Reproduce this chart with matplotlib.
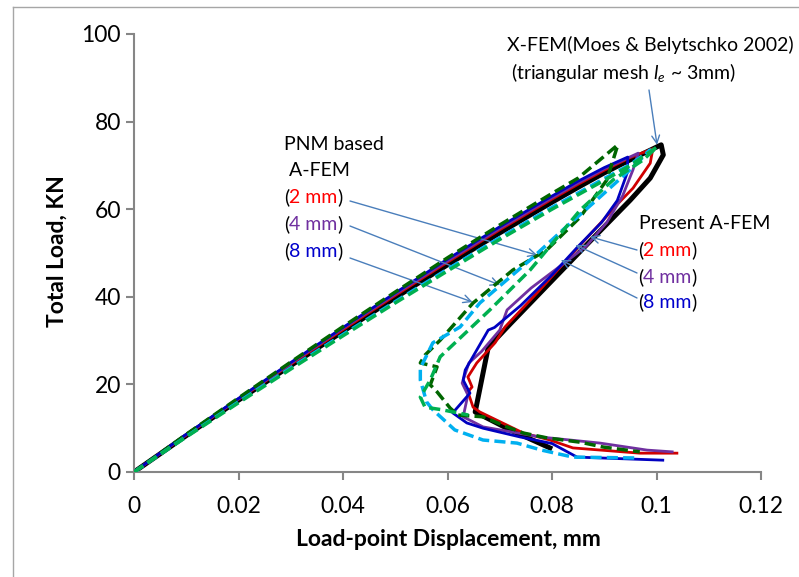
import matplotlib
matplotlib.use("Agg")
import matplotlib.pyplot as plt
from matplotlib.lines import Line2D

plt.rcParams['font.family'] = ['Lato', 'DejaVu Sans']
plt.rcParams['mathtext.fontset'] = 'custom'
plt.rcParams['mathtext.rm'] = 'Lato'
plt.rcParams['mathtext.it'] = 'Lato:italic'

# ---------------- data (displacement mm, load kN) ----------------
xfem_x = [0, 0.01, 0.02, 0.03, 0.04, 0.05, 0.06, 0.07, 0.08, 0.085, 0.09, 0.095, 0.0985, 0.1009,
          0.1013, 0.0988, 0.0950, 0.0873, 0.0796, 0.0720, 0.0678, 0.0653, 0.0720, 0.0796]
xfem_y = [0, 8.3, 16.4, 24.3, 32.1, 39.8, 47.3, 54.6, 61.6, 65.0, 68.3, 71.3, 73.3, 74.7,
          72.4, 67.1, 62.1, 52.7, 43.2, 33.8, 28.5, 13.7, 9.6, 5.5]

pres2_x = [0, 0.01, 0.02, 0.03, 0.04, 0.05, 0.06, 0.07, 0.08, 0.085, 0.09, 0.095, 0.0993,
           0.0988, 0.0955, 0.0924, 0.0898, 0.0840, 0.0777, 0.0710, 0.0691, 0.0656, 0.0639, 0.0647,
           0.0639, 0.0649, 0.0662, 0.0745, 0.0796, 0.0840, 0.0968, 0.1039]
pres2_y = [0, 8.4, 16.6, 24.6, 32.5, 40.3, 47.9, 55.3, 62.3, 65.7, 68.9, 71.8, 73.8,
           70.5, 64.8, 61.0, 57.5, 50.0, 41.6, 33.1, 29.5, 24.9, 21.7, 19.4,
           18.3, 14.8, 13.7, 8.9, 7.3, 5.5, 4.3, 4.3]

pres4_x = [0, 0.01, 0.02, 0.03, 0.04, 0.05, 0.06, 0.07, 0.08, 0.085, 0.09, 0.0965,
           0.0955, 0.0935, 0.0905, 0.0865, 0.0810, 0.0760, 0.0714, 0.0700, 0.0665, 0.0641, 0.0628,
           0.0639, 0.0630, 0.0668, 0.0777, 0.0892, 0.0982, 0.1030]
pres4_y = [0, 8.5, 16.7, 24.8, 32.8, 40.6, 48.2, 55.6, 62.6, 66.0, 69.2, 72.8,
           69.0, 63.0, 57.0, 51.5, 46.5, 42.0, 37.0, 32.4, 27.5, 24.9, 20.3,
           17.6, 12.6, 10.3, 8.0, 6.6, 5.0, 4.6]

pres8_x = [0, 0.01, 0.02, 0.03, 0.04, 0.05, 0.06, 0.07, 0.08, 0.085, 0.09, 0.0945,
           0.0944, 0.0925, 0.0895, 0.0850, 0.0800, 0.0740, 0.0690, 0.0678, 0.0634, 0.0630, 0.0643,
           0.0610, 0.0637, 0.0668, 0.0739, 0.0800, 0.0848, 0.1012]
pres8_y = [0, 8.6, 16.8, 25.0, 33.0, 40.9, 48.6, 56.0, 63.0, 66.4, 69.5, 71.9,
           68.3, 62.0, 57.0, 51.5, 45.0, 38.0, 33.0, 32.4, 23.3, 21.0, 18.0,
           13.5, 11.2, 10.0, 8.0, 6.5, 3.4, 2.7]

pnm2_x = [0, 0.01, 0.02, 0.03, 0.04, 0.05, 0.06, 0.07, 0.08, 0.085, 0.0926,
          0.0905, 0.0854, 0.0790, 0.0725, 0.0649, 0.0586, 0.0557, 0.0548, 0.0580, 0.0567,
          0.0580, 0.0605, 0.0620, 0.0668, 0.0714, 0.0745, 0.0790, 0.0854, 0.0898, 0.0968]
pnm2_y = [0, 8.6, 16.9, 25.1, 33.2, 41.1, 48.9, 56.4, 63.6, 67.1, 74.7,
          66.7, 58.2, 50.7, 46.1, 38.6, 30.1, 26.7, 24.9, 24.0, 19.9,
          18.3, 14.6, 13.0, 12.6, 10.3, 8.9, 7.8, 6.8, 5.7, 4.6]

pnm4_x = [0, 0.01, 0.02, 0.03, 0.04, 0.05, 0.06, 0.07, 0.08, 0.09, 0.095, 0.0988,
          0.0955, 0.0892, 0.0821, 0.0758, 0.0662, 0.0624, 0.0572, 0.0548, 0.0548, 0.0560,
          0.0572, 0.0614, 0.0668, 0.0733, 0.0780, 0.0840, 0.0963]
pnm4_y = [0, 8.1, 16.0, 23.8, 31.4, 38.9, 46.3, 53.5, 60.4, 67.0, 70.2, 73.5,
          69.6, 62.8, 55.3, 48.4, 38.6, 33.1, 29.5, 23.7, 21.0, 16.0,
          14.2, 9.6, 7.3, 6.6, 5.0, 3.4, 3.2]

pnm8_x = [0, 0.01, 0.02, 0.03, 0.04, 0.05, 0.06, 0.07, 0.08, 0.09, 0.095, 0.1001,
          0.0974, 0.0917, 0.0854, 0.0758, 0.0681, 0.0586, 0.0567, 0.0548, 0.0557,
          0.0590, 0.0640]
pnm8_y = [0, 8.0, 15.8, 23.5, 31.1, 38.6, 45.9, 53.1, 60.0, 66.6, 70.0, 74.2,
          71.2, 66.7, 59.8, 46.1, 37.0, 26.3, 21.0, 17.1, 14.8,
          14.2, 13.0]

x_ticks = [0, 0.02, 0.04, 0.06, 0.08, 0.1, 0.12]
x_tick_labels = ['0', '0.02', '0.04', '0.06', '0.08', '0.1', '0.12']
y_ticks = [0, 20, 40, 60, 80, 100]

# ---------------- figure ----------------
W, H = 799, 577
fig = plt.figure(figsize=(W / 100, H / 100), dpi=100)
ax = fig.add_axes([134 / W, 1 - 472 / H, 627 / W, 438 / H])

gray = '#868686'
ax.plot(xfem_x, xfem_y, color='black', lw=3.6, solid_joinstyle='round', zorder=2)
ax.plot(pres2_x, pres2_y, color='#D00000', lw=2.0, zorder=3)
ax.plot(pres4_x, pres4_y, color='#7030A0', lw=2.0, zorder=3)
ax.plot(pres8_x, pres8_y, color='#0000C0', lw=2.0, zorder=3)
dash = (0, (3.2, 1.5))
ax.plot(pnm2_x, pnm2_y, color='#006600', lw=2.5, ls=dash, zorder=4)
ax.plot(pnm4_x, pnm4_y, color='#00B0F0', lw=2.5, ls=dash, zorder=4)
ax.plot(pnm8_x, pnm8_y, color='#00B050', lw=2.5, ls=dash, zorder=4)

ax.set_xlim(0, 0.12)
ax.set_ylim(0, 100)
ax.set_xticks(x_ticks)
ax.set_xticklabels(x_tick_labels)
ax.set_yticks(y_ticks)
for s in ['top', 'right']:
    ax.spines[s].set_visible(False)
for s in ['left', 'bottom']:
    ax.spines[s].set_color(gray)
    ax.spines[s].set_linewidth(1.5)
ax.tick_params(direction='out', length=5.5, width=1.5, color=gray, labelsize=16.5,
               labelcolor='black')
ax.tick_params(axis='y', pad=4)
ax.tick_params(axis='x', pad=12)

fig.text(448 / W, 1 - 540 / H, 'Load-point Displacement, mm', ha='center', va='center',
         fontsize=16.5, fontweight='bold')
fig.text(57 / W, 1 - 251 / H, 'Total Load, KN', ha='center', va='center', rotation=90,
         fontsize=16.5, fontweight='bold')

# outer chart frame
fig.add_artist(Line2D([13 / W, 13 / W], [0, 1 - 7 / H], transform=fig.transFigure,
                      color='#A6A6A6', lw=1))
fig.add_artist(Line2D([13 / W, 1], [1 - 7 / H, 1 - 7 / H], transform=fig.transFigure,
                      color='#A6A6A6', lw=1))

fs = 14
def ftxt(px, py, s, **kw):
    return fig.text(px / W, 1 - py / H, s, fontsize=fs, va='center', **kw)

renderer = fig.canvas.get_renderer()
def multi(px, py, parts):
    t = fig.text(px / W, 1 - py / H, parts[0][0], fontsize=fs, va='baseline', color=parts[0][1])
    for s, c in parts[1:]:
        bb = t.get_window_extent(renderer)
        t = fig.text(bb.x1 / W, 1 - py / H, s, fontsize=fs, va='baseline', color=c)

arrow_c = '#4A7EBB'
def arrow(px0, py0, xd, yd):
    ax.annotate('', xy=(xd, yd), xycoords='data',
                xytext=(px0 / W, 1 - py0 / H), textcoords='figure fraction',
                arrowprops=dict(arrowstyle='->', color=arrow_c, lw=1.0, mutation_scale=14,
                                shrinkA=0, shrinkB=0))

# X-FEM label
ftxt(507, 45, 'X-FEM(Moes & Belytschko 2002)')
ftxt(511, 72, '(triangular mesh $l_e$ ~ 3mm)')
arrow(649, 90, 0.1001, 74.7)

# PNM based labels
ftxt(284, 145, 'PNM based')
ftxt(284, 170, ' A-FEM')
red, purple, blue = '#FF0000', '#7030A0', '#0000CC'
multi(284, 203, [('(', 'black'), ('2 mm', red), (')', 'black')])
multi(284, 230, [('(', 'black'), ('4 mm', purple), (')', 'black')])
multi(284, 257, [('(', 'black'), ('8 mm', blue), (')', 'black')])
arrow(350, 201, 0.0772, 49.5)
arrow(350, 226, 0.0700, 42.7)
arrow(350, 258, 0.0648, 38.8)

# Present A-FEM labels
ftxt(639, 223, 'Present A-FEM')
multi(638, 256, [('(', 'black'), ('2 mm', red), (')', 'black')])
multi(638, 283, [('(', 'black'), ('4 mm', purple), (')', 'black')])
multi(638, 308, [('(', 'black'), ('8 mm', blue), (')', 'black')])
arrow(637, 250, 0.0873, 53.7)
arrow(637, 273, 0.0845, 51.8)
arrow(637, 298, 0.0817, 48.4)

fig.savefig('out.png', dpi=100)
